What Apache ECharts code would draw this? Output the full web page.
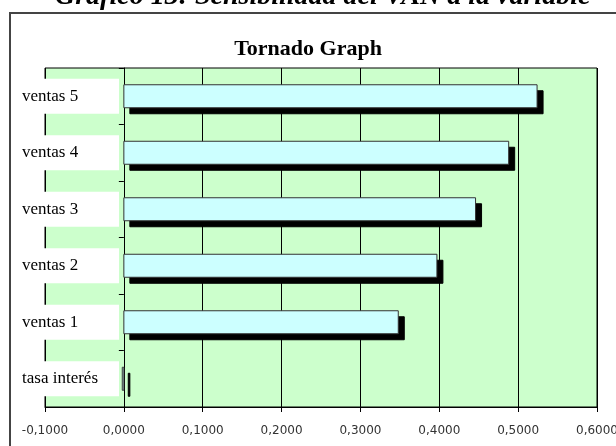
<!DOCTYPE html>
<html lang="es">
<head>
    <meta charset="UTF-8">
    <title>Tornado Graph</title>
    <script src="https://cdn.jsdelivr.net/npm/echarts@6/dist/echarts.min.js"></script>
    <style>
        html, body { margin: 0; padding: 0; background: #fff; }
    </style>
</head>
<body>

<div id="wrap" style="width: 616px; height: 446px;"></div>

<script>
    // categorias (de abajo hacia arriba)
    var categorias = ['tasa interés', 'ventas 1', 'ventas 2', 'ventas 3', 'ventas 4', 'ventas 5'];
    var sensibilidad = [-0.002, 0.348, 0.397, 0.446, 0.488, 0.524];
    var ejeMin = -0.1;
    var ejeMax = 0.6;
    var ejeIntervalo = 0.1;

    var myChart = echarts.init(document.getElementById('wrap'));

    // barra con sombra negra desplazada (como en Excel)
    function dibujarBarra(params, api) {
        var v = api.value(0);
        var c = api.value(1);
        var p0 = api.coord([0, c]);
        var p1 = api.coord([v, c]);
        var h = 23;
        var x = Math.min(p0[0], p1[0]);
        var w = Math.abs(p1[0] - p0[0]);
        var y = p0[1] - h / 2;
        return {
            type: 'group',
            children: [{
                type: 'rect',
                shape: { x: x + 6, y: y + 6, width: w, height: h },
                style: { fill: '#000', stroke: '#000', lineWidth: 1 }
            }, {
                type: 'rect',
                shape: { x: x, y: y, width: w, height: h },
                style: { fill: '#CCFFFF', stroke: '#333', lineWidth: 1 }
            }]
        };
    }

    var option = {
        animation: false,
        backgroundColor: '#fff',
        title: {
            text: 'Tornado Graph',
            left: 'center',
            top: 33,
            textStyle: {
                fontFamily: '"Liberation Serif", serif',
                fontSize: 22,
                fontWeight: 'bold',
                color: '#000'
            }
        },
        graphic: [{
            type: 'text',
            x: 55,
            y: 11,
            style: {
                text: 'Gráfico 13: Sensibilidad del VAN a la variable',
                font: 'italic bold 28px "Liberation Serif", serif',
                fill: '#000',
                verticalAlign: 'bottom'
            }
        }, {
            // marco exterior
            type: 'rect',
            shape: { x: 10, y: 13, width: 640, height: 460 },
            style: { fill: 'none', stroke: '#444', lineWidth: 2 },
            z: 10
        }],
        grid: {
            left: 45,
            right: 19,
            top: 68,
            bottom: 39,
            outerBoundsMode: 'none',
            containLabel: false,
            show: true,
            backgroundColor: '#CCFFCC',
            borderColor: '#000',
            borderWidth: 1
        },
        xAxis: {
            type: 'value',
            min: ejeMin,
            max: ejeMax,
            interval: ejeIntervalo,
            axisLine: { show: true, lineStyle: { color: '#000', width: 1 } },
            axisTick: { show: true, length: 5, lineStyle: { color: '#000' } },
            splitLine: { show: true, lineStyle: { color: '#000', width: 1 } },
            axisLabel: {
                margin: 18,
                fontFamily: '"DejaVu Sans", sans-serif',
                fontSize: 12,
                color: '#333',
                formatter: function (v) {
                    return v.toFixed(4).replace('.', ',');
                }
            }
        },
        yAxis: {
            type: 'category',
            data: categorias,
            axisLine: { show: true, onZero: true, lineStyle: { color: '#000', width: 1 } },
            axisTick: { show: true, length: 5, lineStyle: { color: '#000' } },
            axisLabel: {
                align: 'left',
                margin: 33,
                formatter: '{a|{value}}',
                rich: {
                    a: {
                        width: 97,
                        height: 35,
                        align: 'left',
                        padding: [0, 0, 0, 10],
                        backgroundColor: '#fff',
                        fontFamily: '"Liberation Serif", serif',
                        fontSize: 17,
                        color: '#000'
                    }
                }
            }
        },
        series: [{
            name: 'Sensibilidad',
            type: 'custom',
            renderItem: dibujarBarra,
            encode: { x: 0, y: 1 },
            data: sensibilidad.map(function (v, i) { return [v, i]; })
        }]
    };

    myChart.setOption(option);
</script>
</body>
</html>
